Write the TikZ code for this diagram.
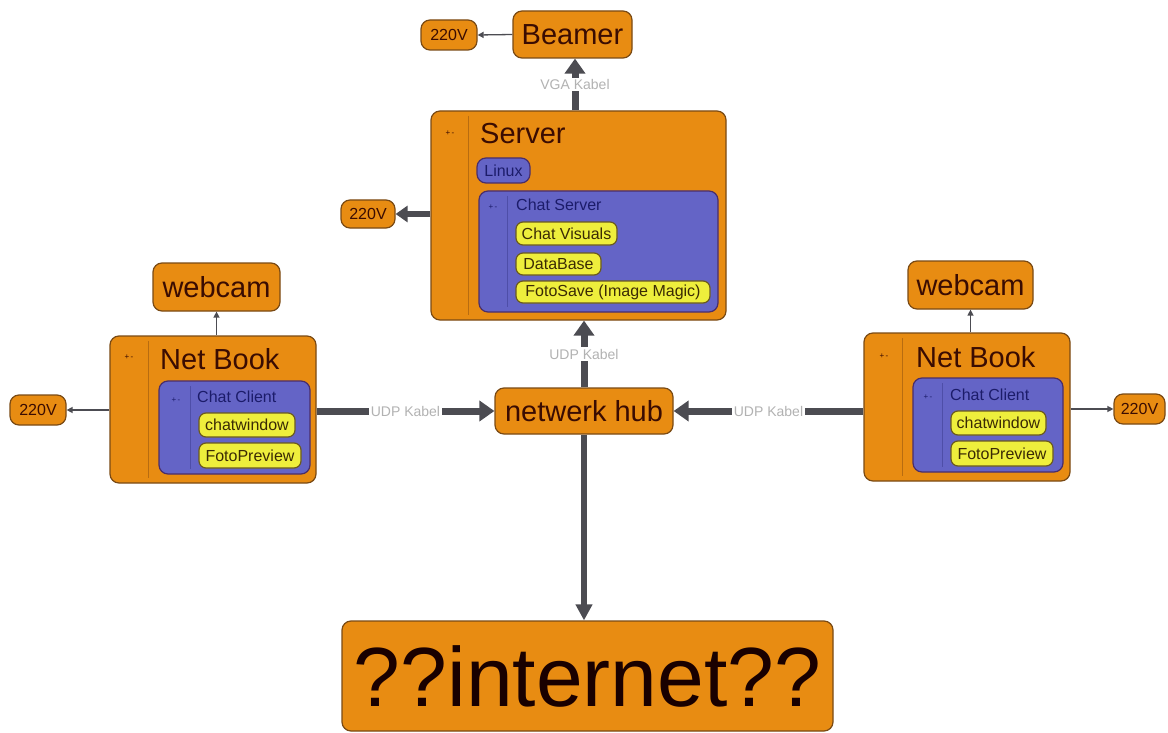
\documentclass[tikz,border=0pt]{standalone}
\usepackage{fontspec}
\setmainfont{Liberation Sans}
\usetikzlibrary{arrows.meta,calc}
\definecolor{orng}{HTML}{E88C12}
\definecolor{orngline}{HTML}{7A4A14}
\definecolor{blu}{HTML}{6464C6}
\definecolor{bluline}{HTML}{4A2E6A}
\definecolor{yel}{HTML}{EEEE3C}
\definecolor{yelline}{HTML}{6A5A20}
\definecolor{txtbrown}{HTML}{3A0C02}
\definecolor{txtnavy}{HTML}{1C1C6A}
\definecolor{txtolive}{HTML}{3A2A04}
\definecolor{arr}{HTML}{4C4C52}
\definecolor{strip}{HTML}{B86C10}
\definecolor{stripb}{HTML}{4E4EA8}
\tikzset{
  obox/.style={draw=orngline, fill=orng, rounded corners=9pt, line width=1.2pt, inner sep=0pt, text=txtbrown},
  bbox/.style={draw=bluline, fill=blu, rounded corners=9pt, line width=1.2pt, inner sep=0pt},
  ybox/.style={draw=yelline, fill=yel, rounded corners=7pt, line width=1.2pt, inner sep=0pt, text=txtolive, font=\fontsize{16}{18}\selectfont},
  big/.style={font=\fontsize{29}{32}\selectfont},
  small/.style={font=\fontsize{16}{18}\selectfont},
  title/.style={anchor=west, inner sep=0pt, text=txtbrown, font=\fontsize{29}{32}\selectfont},
  subtitle/.style={anchor=west, inner sep=0pt, text=txtnavy, font=\fontsize{16}{18}\selectfont},
  pm/.style={inner sep=0pt, font=\fontsize{8}{9}\selectfont, text=txtbrown},
  stripline/.style={draw=strip, line width=1pt},
  stripblue/.style={draw=stripb, line width=1pt},
  thickarr/.style={draw=arr, line width=7pt, -{Triangle[width=20pt,length=15pt]}},
  thinarr/.style={draw=arr, line width=1.3pt, -{Triangle[width=6pt,length=6pt]}},
  lbl/.style={midway, fill=white, inner sep=1.5pt, text=gray!60, font=\fontsize{14}{16}\selectfont},
}
\begin{document}
\begin{tikzpicture}[x=1pt,y=-1pt]
\useasboundingbox[fill=white] (0,0) rectangle (1168,733);

% top
\node[obox, big, minimum width=119, minimum height=47] (beamer) at (572.5,34.5) {Beamer};
\node[obox, small, minimum width=56, minimum height=30] (pw1) at (449,35) {220V};

% server
\node[obox, minimum width=295, minimum height=209] (server) at (578.5,215.5) {};
\draw[stripline] (468,116) -- (468,315);
\node[pm] (pmS) at (450,133) {+{}\,{}-};
\node[title] (serverT) at (480,134) {Server};
\node[bbox, minimum width=53, minimum height=25, text=txtnavy, font=\fontsize{16}{18}\selectfont] (linux) at (503.5,170.5) {Linux};
\node[bbox, minimum width=239, minimum height=121] (cserver) at (598.5,251.5) {};
\draw[stripblue] (507,196) -- (507,307);
\node[pm, text=txtnavy] (pmCS) at (493,207) {+{}\,{}-};
\node[subtitle] (cserverT) at (516,205) {Chat Server};
\node[ybox, minimum width=101, minimum height=23] (visuals) at (566.5,233.5) {Chat Visuals};
\node[ybox, minimum width=85, minimum height=22] (database) at (558.5,264) {DataBase};
\node[ybox, minimum width=194, minimum height=22] (fotosave) at (613,292) {FotoSave (Image Magic)};
\node[obox, small, minimum width=54, minimum height=28] (pw2) at (368,214) {220V};

% left netbook
\node[obox, big, minimum width=127, minimum height=48] (webcamL) at (216.5,287) {webcam};
\node[obox, minimum width=206, minimum height=147] (netbookL) at (213,409.5) {};
\draw[stripline] (148,341) -- (148,478);
\node[pm] (pmNL) at (129,357) {+{}\,{}-};
\node[title] (netbookLT) at (160,359) {Net Book};
\node[bbox, minimum width=151, minimum height=93] (clientL) at (234.5,427.5) {};
\draw[stripblue] (190,386) -- (190,469);
\node[pm, text=txtnavy] (pmCL) at (176,400) {+{}\,{}-};
\node[subtitle] (clientLT) at (197,397) {Chat Client};
\node[ybox, minimum width=96, minimum height=24] (cwL) at (247,425) {chatwindow};
\node[ybox, minimum width=102, minimum height=25] (fpL) at (250,455.5) {FotoPreview};
\node[obox, small, minimum width=56, minimum height=30] (pw3) at (38,410) {220V};

% hub and internet
\node[obox, big, minimum width=178, minimum height=46] (hub) at (584,411) {netwerk hub};
\node[obox, minimum width=491, minimum height=110, font=\fontsize{84}{90}\selectfont, text=black!90!red] (internet) at (587.5,676) {??internet??};

% right netbook
\node[obox, big, minimum width=125, minimum height=48] (webcamR) at (970.5,285) {webcam};
\node[obox, minimum width=206, minimum height=148] (netbookR) at (967,407) {};
\draw[stripline] (902,338) -- (902,476);
\node[pm] (pmNR) at (884,356) {+{}\,{}-};
\node[title] (netbookRT) at (916,357) {Net Book};
\node[bbox, minimum width=150, minimum height=94] (clientR) at (988,425) {};
\draw[stripblue] (942,383) -- (942,467);
\node[pm, text=txtnavy] (pmCR) at (928,397) {+{}\,{}-};
\node[subtitle] (clientRT) at (950,395) {Chat Client};
\node[ybox, minimum width=95, minimum height=24] (cwR) at (998.5,423) {chatwindow};
\node[ybox, minimum width=102, minimum height=25] (fpR) at (1002,453.5) {FotoPreview};
\node[obox, small, minimum width=51, minimum height=30] (pw4) at (1139.5,409) {220V};

% connectors
\coordinate (vgaS) at ($(server.north)+(-3.5,0)$);
\draw[thickarr] (vgaS) -- (vgaS |- beamer.south) node[lbl] {VGA Kabel};
\draw[thinarr] (beamer.west) -- (pw1.east);
\draw[draw=arr, line width=6pt, -{Triangle[width=16pt,length=12pt]}] (server.west |- pw2.east) -- (pw2.east);
\draw[thickarr] (hub.north) -- (hub.north |- server.south) node[lbl] {UDP Kabel};
\draw[thickarr] (netbookL.east |- hub.west) -- (hub.west) node[lbl] {UDP Kabel};
\draw[thickarr] (netbookR.west |- hub.east) -- (hub.east) node[lbl] {UDP Kabel};
\draw[draw=arr, line width=6pt, -{Triangle[width=16pt,length=16pt]}] (hub.south) -- (hub.south |- internet.north);
\draw[thinarr] (netbookL.west |- pw3.east) -- (pw3.east);
\draw[thinarr] (netbookR.east |- pw4.west) -- (pw4.west);
\draw[thinarr] (netbookL.north -| webcamL.south) -- (webcamL.south);
\draw[thinarr] (netbookR.north -| webcamR.south) -- (webcamR.south);
\end{tikzpicture}
\end{document}
